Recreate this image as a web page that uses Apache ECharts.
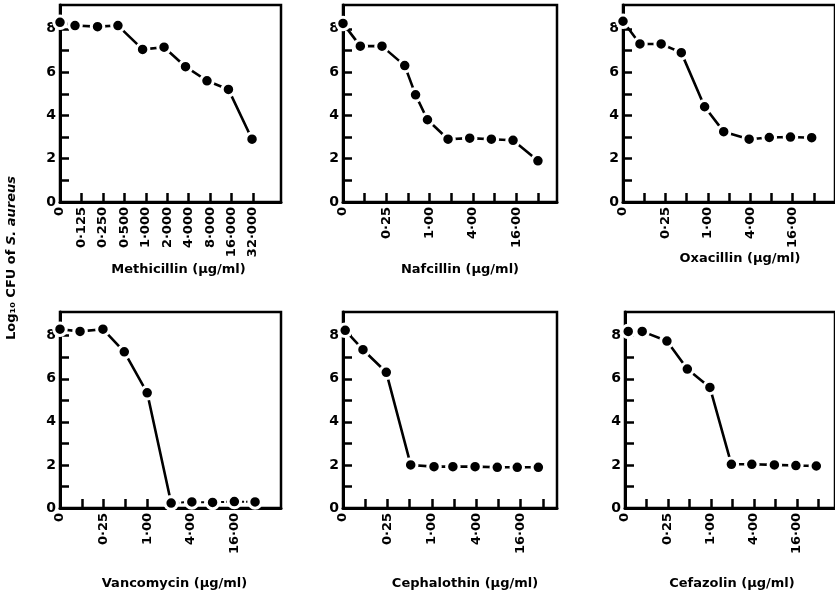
<!DOCTYPE html>
<html>
<head>
<meta charset="utf-8">
<script src="https://cdn.jsdelivr.net/npm/echarts@6/dist/echarts.min.js"></script>
<style>
html,body{margin:0;padding:0;background:#fff;}
#chart{width:835px;height:596px;}
</style>
</head>
<body>
<div id="chart"></div>
<script>
// ---- Data (x = dilution step along the axis, y = Log10 CFU) ----
var drugNames = ['Methicillin', 'Nafcillin', 'Oxacillin', 'Vancomycin', 'Cephalothin', 'Cefazolin'];

var methicillinX = [0, 0.7, 1.75, 2.7, 3.85, 4.85, 5.85, 6.85, 7.85, 8.95];
var methicillinY = [8.3, 8.15, 8.1, 8.15, 7.05, 7.15, 6.25, 5.6, 5.2, 2.9];

var nafcillinX = [0, 0.8, 1.8, 2.85, 3.35, 3.9, 4.85, 5.85, 6.85, 7.85, 9.0];
var nafcillinY = [8.25, 7.2, 7.2, 6.3, 4.95, 3.8, 2.9, 2.95, 2.9, 2.85, 1.9];

var oxacillinX = [0, 0.8, 1.8, 2.75, 3.85, 4.75, 5.95, 6.9, 7.9, 8.9];
var oxacillinY = [8.35, 7.3, 7.3, 6.9, 4.4, 3.25, 2.9, 2.98, 3.0, 2.97];

var vancomycinX = [0, 0.92, 1.97, 2.95, 4.0, 5.1, 6.05, 7.0, 8.0, 8.95];
var vancomycinY = [8.3, 8.2, 8.3, 7.25, 5.35, 0.23, 0.28, 0.26, 0.3, 0.28];

var cephalothinX = [0.1, 0.9, 1.95, 3.05, 4.1, 4.95, 5.95, 6.95, 7.85, 8.8];
var cephalothinY = [8.25, 7.35, 6.3, 2.0, 1.92, 1.92, 1.92, 1.89, 1.89, 1.89];

var cefazolinX = [0.15, 0.8, 1.95, 2.9, 3.95, 4.95, 5.9, 6.95, 7.95, 8.9];
var cefazolinY = [8.2, 8.2, 7.75, 6.45, 5.6, 2.03, 2.03, 2.0, 1.97, 1.95];

// tick labels
var methicillinTickSteps = [0, 1, 2, 3, 4, 5, 6, 7, 8, 9];
var methicillinTickLabels = ['0', '0·125', '0·250', '0·500', '1·000', '2·000', '4·000', '8·000', '16·000', '32·000'];
var otherTickSteps = [0, 2, 4, 6, 8];
var otherTickLabels = ['0', '0·25', '1·00', '4·00', '16·00'];
var xTickSteps = [0, 1, 2, 3, 4, 5, 6, 7, 8, 9];
var yTickValues = [0, 1, 2, 3, 4, 5, 6, 7, 8];
var yLabelValues = [0, 2, 4, 6, 8];
var unitText = ' (μg/ml)';
var yTitle = 'Log₁₀ CFU of ';
var yTitleItalic = 'S. aureus';

// ---- Layout ----
var FONT = 'DejaVu Sans';
var panels = [
  {left: 60,  top: 5,   width: 221, height: 197, xMax: 10.3, gap: 61, shift: 16, x: methicillinX, y: methicillinY, steps: methicillinTickSteps, labels: methicillinTickLabels},
  {left: 343, top: 5,   width: 214, height: 197, xMax: 9.88, gap: 61, shift: 20, x: nafcillinX,   y: nafcillinY,   steps: otherTickSteps, labels: otherTickLabels},
  {left: 623, top: 5,   width: 217, height: 197, xMax: 10.0, gap: 44, shift: 22, x: oxacillinX,   y: oxacillinY,   steps: otherTickSteps, labels: otherTickLabels},
  {left: 60,  top: 312, width: 221, height: 196, xMax: 10.14, gap: 69, shift: 8, x: vancomycinX, y: vancomycinY, steps: otherTickSteps, labels: otherTickLabels, dottedFrom: 5},
  {left: 343, top: 312, width: 214, height: 196, xMax: 9.64, gap: 69, shift: 30, x: cephalothinX, y: cephalothinY, steps: otherTickSteps, labels: otherTickLabels},
  {left: 625, top: 312, width: 215, height: 196, xMax: 9.77, gap: 69, shift: 4, x: cefazolinX,   y: cefazolinY,   steps: otherTickSteps, labels: otherTickLabels}
];

var grids = [], xAxes = [], yAxes = [], series = [];
panels.forEach(function (p, i) {
  grids.push({left: p.left, top: p.top, width: p.width, height: p.height, show: true,
    borderColor: '#000', borderWidth: 2.5, backgroundColor: 'transparent', containLabel: false});
  (function (steps, labels) {
    xAxes.push({
      type: 'value', gridIndex: i, min: 0, max: p.xMax,
      splitLine: {show: false},
      axisLine: {show: true, onZero: false, lineStyle: {color: '#000', width: 3}},
      axisTick: {show: true, inside: true, length: 9, customValues: xTickSteps, lineStyle: {color: '#000', width: 2.5}},
      axisLabel: {show: true, rotate: 90, margin: 5, customValues: steps, color: '#000',
        fontFamily: FONT, fontWeight: 'bold', fontSize: 13,
        formatter: function (v) { var k = steps.indexOf(Math.round(v)); return k >= 0 ? labels[k] : ''; }},
      name: drugNames[i] + unitText, nameLocation: 'middle', nameGap: p.gap,
      nameTextStyle: {color: '#000', fontFamily: FONT, fontWeight: 'bold', fontSize: 13, padding: [0, 0, 0, p.shift]}
    });
  })(p.steps, p.labels);
  yAxes.push({
    type: 'value', gridIndex: i, min: 0, max: 9.1,
    splitLine: {show: false},
    axisLine: {show: true, lineStyle: {color: '#000', width: 3}},
    axisTick: {show: true, inside: true, length: 9, customValues: yTickValues, lineStyle: {color: '#000', width: 2.5}},
    axisLabel: {show: true, margin: 4, customValues: yLabelValues, color: '#000',
      fontFamily: FONT, fontWeight: 'bold', fontSize: 14}
  });
  var pts = p.x.map(function (xv, k) { return [xv, p.y[k]]; });
  var solidPts = p.dottedFrom ? pts.slice(0, p.dottedFrom + 1) : pts;
  series.push({
    type: 'line', xAxisIndex: i, yAxisIndex: i, data: solidPts,
    symbol: 'circle', symbolSize: 12.5, z: 3,
    itemStyle: {color: '#000', borderColor: '#fff', borderWidth: 3},
    lineStyle: {color: '#000', width: 2.6}, animation: false, silent: true
  });
  if (p.dottedFrom) {
    series.push({
      type: 'line', xAxisIndex: i, yAxisIndex: i, data: pts.slice(p.dottedFrom),
      symbol: 'circle', symbolSize: 12.5, z: 3,
      itemStyle: {color: '#000', borderColor: '#fff', borderWidth: 3},
      lineStyle: {color: '#000', width: 2, type: [3, 2]}, animation: false, silent: true
    });
  }
});

var chart = echarts.init(document.getElementById('chart'), null, {renderer: 'canvas'});
chart.setOption({
  backgroundColor: '#fff',
  animation: false,
  grid: grids, xAxis: xAxes, yAxis: yAxes, series: series,
  graphic: [{
    type: 'text', x: 12, y: 258, rotation: Math.PI / 2,
    style: {
      text: '{a|' + yTitle + '}{i|' + yTitleItalic + '}',
      align: 'center', verticalAlign: 'middle',
      rich: {
        a: {fontFamily: FONT, fontWeight: 'bold', fontSize: 13, fill: '#000'},
        i: {fontFamily: FONT, fontWeight: 'bold', fontStyle: 'italic', fontSize: 13, fill: '#000'}
      }
    }
  }]
});
</script>
</body>
</html>
